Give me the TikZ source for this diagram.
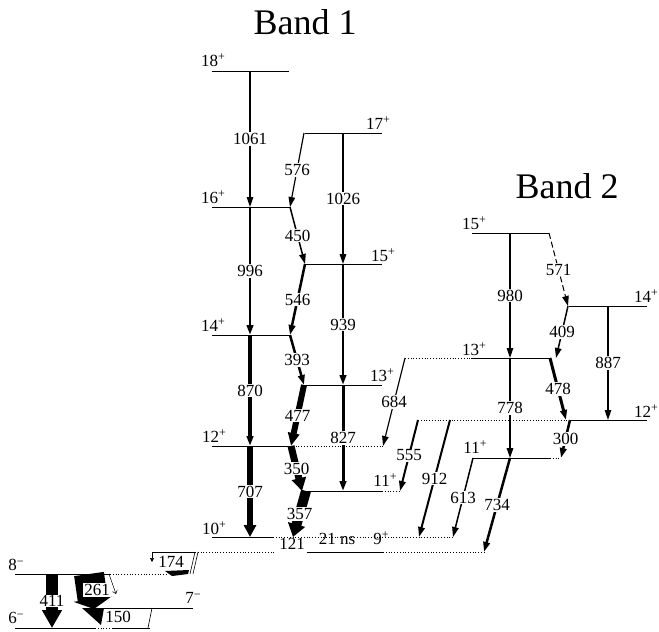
\documentclass[tikz,border=0pt]{standalone}
\usepackage{fontspec}
\setmainfont{Liberation Serif}
\usetikzlibrary{arrows.meta}
\newcommand\enfont{\fontsize{17}{17}\selectfont}
\newcommand\bandfont{\fontsize{36}{36}\selectfont}
\newcommand\supfont{\fontsize{12}{12}\selectfont}
\newcommand\spinp[1]{#1\raisebox{5.5pt}{\supfont +}}
\newcommand\spinm[1]{#1\raisebox{5.5pt}{\supfont \textminus}}

\begin{document}
\begin{tikzpicture}[x=1pt,y=-1pt,
  >={Triangle[length=10pt,width=6.5pt]},
  lev/.style={line width=0.8pt},
  levd/.style={line width=0.8pt,dotted},
  gam/.style={->,line width=#1},
  gam/.default=1.2pt,
  en/.style={fill=white,inner sep=0.8pt,font=\enfont},
  spin/.style={inner sep=0pt,font=\enfont},
  band/.style={font=\bandfont}]
  \useasboundingbox (0,0) rectangle (659,632);

  % titles
  \node[band] (band1) at (305,22) {Band 1};
  \node[band] (band2) at (567,186) {Band 2};

  % band 1 levels
  \draw[lev] (212,71) -- (289,71);
  \draw[lev] (305,133) -- (382,133);
  \draw[lev] (212,207) -- (290,207);
  \draw[lev] (305,264) -- (382,264);
  \draw[lev] (212,335) -- (290,335);
  \draw[lev] (303,385) -- (382,385);
  \draw[lev] (212,446) -- (290,446);
  \draw[levd] (290,446) -- (383,446);
  \draw[lev] (303,491) -- (382,491);
  \draw[levd] (382,491) -- (400,491);
  \draw[lev] (212,537) -- (273,537);
  \draw[levd] (273,537) -- (453,537);
  \draw[levd] (195,552) -- (275,552);
  \draw[lev] (307,552) -- (383,552);
  \draw[levd] (383,552) -- (484,552);
  \draw[lev] (15,574) -- (110,574);
  \draw[levd] (110,574) -- (167,574);
  \draw[lev] (83,608) -- (193,608);
  \draw[lev] (15,628) -- (95,628);
  \draw[levd] (95,628) -- (113,628);
  \draw[lev] (113,628) -- (150,628);

  % band 2 levels
  \draw[lev] (472,233) -- (549,233);
  \draw[lev] (569,306) -- (647,306);
  \draw[levd] (405,358) -- (471,358);
  \draw[lev] (471,358) -- (549,358);
  \draw[levd] (418,420) -- (570,420);
  \draw[lev] (570,420) -- (647,420);
  \draw[lev] (473,458) -- (550,458);
  \draw[levd] (550,458) -- (560,458);

  % points on the levels
  \coordinate (c18) at (250,71);
  \coordinate (c16) at (250,207);
  \coordinate (c14) at (250,335);
  \coordinate (c12) at (250,446);
  \coordinate (c10) at (250,537);
  \coordinate (c17) at (343,133);
  \coordinate (c15) at (343,264);
  \coordinate (c13) at (343,385);
  \coordinate (c11) at (343,491);
  \coordinate (z17) at (304,133);
  \coordinate (z16) at (290,207);
  \coordinate (z15) at (305,264);
  \coordinate (z14) at (290,335);
  \coordinate (z13) at (304,385);
  \coordinate (z12) at (291,446);
  \coordinate (z11) at (302,491);
  \coordinate (s11) at (306,491);
  \coordinate (z10) at (293,537);
  \coordinate (e12) at (383,446);
  \coordinate (e11) at (400,491);
  \coordinate (e10a) at (419,537);
  \coordinate (e10b) at (453,537);
  \coordinate (e9) at (484,552);
  \coordinate (b15) at (510,233);
  \coordinate (d15) at (549,233);
  \coordinate (b14) at (608,306);
  \coordinate (d14) at (568,306);
  \coordinate (s13) at (405,358);
  \coordinate (b13) at (510,358);
  \coordinate (d13) at (550,358);
  \coordinate (f13) at (556,358);
  \coordinate (s12a) at (418,420);
  \coordinate (s12b) at (450,420);
  \coordinate (d12) at (566,420);
  \coordinate (b12) at (608,420);
  \coordinate (f12) at (570,420);
  \coordinate (s11a) at (473,458);
  \coordinate (b11) at (510,458);
  \coordinate (d11) at (561,458);

  % band 1 transitions
  \draw[gam] (c18) -- node[en]{1061} (c16);
  \draw[gam=2.5pt] (c16) -- node[en]{996} (c14);
  \draw[gam=3.5pt] (c14) -- node[en]{870} (c12);
  \draw[-{Triangle[length=12pt,width=12pt]},line width=5.5pt] (c12) -- node[en]{707} (c10);
  \draw[gam=1.5pt] (c17) -- node[en]{1026} (c15);
  \draw[gam=2.5pt] (c15) -- node[en]{939} (c13);
  \draw[gam=3pt] (c13) -- node[en]{827} (c11);
  \draw[gam] (z17) -- node[en]{576} (z16);
  \draw[gam=1.5pt] (z16) -- node[en]{450} (z15);
  \draw[gam=2.5pt] (z15) -- node[en]{546} (z14);
  \draw[gam=2.5pt] (z14) -- node[en]{393} (z13);
  \draw[-{Triangle[length=13pt,width=11pt]},line width=6pt] (z13) -- node[en]{477} (z12);
  \draw[-{Triangle[length=13pt,width=14pt]},line width=7pt] (z12) -- node[en]{350} (z11);
  \draw[-{Triangle[length=13pt,width=17pt]},line width=10pt] (s11) -- node[en]{357} (z10);

  % links between the bands
  \draw[gam] (s13) -- node[en]{684} (e12);
  \draw[gam=2pt] (s12a) -- node[en]{555} (e11);
  \draw[gam=2pt] (s12b) -- node[en]{912} (e10a);
  \draw[gam=1.5pt] (s11a) -- node[en]{613} (e10b);
  \draw[gam=2.5pt] (b11) -- node[en]{734} (e9);

  % band 2 transitions
  \draw[gam] (b15) -- node[en]{980} (b13);
  \draw[gam=1.5pt] (b13) -- node[en]{778} (b11);
  \draw[gam] (b14) -- node[en]{887} (b12);
  \draw[gam=1pt,dash pattern=on 6pt off 3pt] (d15) -- node[en]{571} (d14);
  \draw[gam=1.5pt] (d14) -- node[en]{409} (f13);
  \draw[gam=3pt] (d13) -- node[en]{478} (d12);
  \draw[gam=2.5pt] (f12) -- node[en]{300} (d11);

  % low lying transitions
  \coordinate (t411) at (52,574);
  \coordinate (b411) at (52,628);
  \draw[-{Triangle[length=18pt,width=19pt]},line width=12pt] (t411) -- node[en]{411} (b411);
  \coordinate (t261) at (89,574);
  \coordinate (b261) at (94,609);
  \draw[-{Triangle[length=10pt,width=38pt]},line width=30pt] (t261) -- (b261);
  \coordinate (w261a) at (109,574);
  \coordinate (w261b) at (116,594);
  \draw[-{Straight Barb[length=3pt,width=5pt]},line width=0.5pt] (w261a) -- (w261b);
  \node[en] (l261) at (97,590) {261};
  \coordinate (p150a) at (82,608);
  \coordinate (p150b) at (104,608);
  \coordinate (p150c) at (101,625);
  \fill (p150a) -- (p150b) -- (p150c) -- cycle;
  \coordinate (w150a) at (152,608);
  \coordinate (w150b) at (148,628);
  \draw[line width=0.6pt] (w150a) -- (w150b);
  \node[en] (l150) at (118,617) {150};
  \coordinate (a174) at (195,552);
  \coordinate (b174) at (152,552);
  \coordinate (c174) at (152,562);
  \draw[-{Triangle[length=4pt,width=4pt]},line width=0.6pt] (a174) -- (b174) -- (c174);
  \coordinate (d174) at (190,574);
  \coordinate (e174) at (198,552);
  \coordinate (f174) at (193,574);
  \draw[line width=0.6pt] (a174) -- (d174);
  \draw[line width=0.6pt] (e174) -- (f174);
  \coordinate (g174) at (165,571);
  \coordinate (h174) at (189,570);
  \coordinate (i174) at (188,574);
  \coordinate (j174) at (172,576);
  \fill (g174) -- (h174) -- (i174) -- (j174) -- cycle;
  \node[en] (l174) at (171,562) {174};
  \node[spin] (l121) at (292,544) {121};
  \node[spin] (l21ns) at (337,539) {21 ns};

  % spin labels
  \node[spin] (s18) at (213,60) {\spinp{18}};
  \node[spin] (s16) at (213,197) {\spinp{16}};
  \node[spin] (s14) at (213,325) {\spinp{14}};
  \node[spin] (s12) at (214,436) {\spinp{12}};
  \node[spin] (s10) at (214,528) {\spinp{10}};
  \node[spin] (s17) at (378,123) {\spinp{17}};
  \node[spin] (s15) at (383,255) {\spinp{15}};
  \node[spin] (s13a) at (382,375) {\spinp{13}};
  \node[spin] (s11b) at (385,480) {\spinp{11}};
  \node[spin] (s9) at (381,538) {\spinp{9}};
  \node[spin] (s8) at (16,565) {\spinm{8}};
  \node[spin] (s7) at (193,598) {\spinm{7}};
  \node[spin] (s6) at (16,618) {\spinm{6}};
  \node[spin] (t15) at (474,223) {\spinp{15}};
  \node[spin] (t14) at (646,296) {\spinp{14}};
  \node[spin] (t13) at (474,349) {\spinp{13}};
  \node[spin] (t12) at (646,411) {\spinp{12}};
  \node[spin] (t11) at (475,447) {\spinp{11}};
\end{tikzpicture}
\end{document}
